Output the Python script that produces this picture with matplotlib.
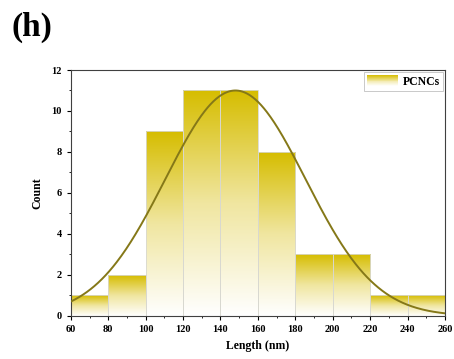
import numpy as np
import matplotlib
matplotlib.use("Agg")
import matplotlib.pyplot as plt
from matplotlib.colors import LinearSegmentedColormap
from matplotlib.patches import Rectangle
from matplotlib.legend_handler import HandlerBase

# length histogram (20 nm bins)
bin_edges = [60, 80, 100, 120, 140, 160, 180, 200, 220, 240, 260]
counts = [1, 2, 9, 11, 11, 8, 3, 3, 1, 1]
# gaussian fit parameters
fit_amp = 11.0
fit_center = 148.0
fit_sigma = 37.5

gold = "#d6bd00"
cmap = LinearSegmentedColormap.from_list("gold_fade", ["#ffffff", "#f0e6a0", gold])

plt.rcParams["font.family"] = ["Liberation Serif", "DejaVu Serif"]
plt.rcParams["font.weight"] = "bold"

fig = plt.figure(figsize=(4.54, 3.59), dpi=100)
ax = fig.add_axes([0.156, 0.12, 0.824, 0.685])

grad = np.linspace(0, 1, 256).reshape(-1, 1)
for x0, x1, c in zip(bin_edges[:-1], bin_edges[1:], counts):
    ax.imshow(grad, extent=[x0, x1, 0, c], origin="lower", cmap=cmap,
              aspect="auto", zorder=1, interpolation="bilinear")
    ax.add_patch(Rectangle((x0, 0), x1 - x0, c, fill=False,
                           edgecolor="#d8d8d0", linewidth=0.6, zorder=2))

xs = np.linspace(bin_edges[0], bin_edges[-1], 400)
ys = fit_amp * np.exp(-(xs - fit_center) ** 2 / (2 * fit_sigma ** 2))
ax.plot(xs, ys, color="#857818", linewidth=1.4, zorder=3)

ax.set_xlim(60, 260)
ax.set_ylim(0, 12)
ax.set_xticks(range(60, 261, 20))
ax.set_xticks(range(70, 260, 20), minor=True)
ax.set_yticks(range(0, 13, 2))
ax.set_yticks(range(1, 12, 2), minor=True)
ax.tick_params(axis="both", which="major", labelsize=7.5, length=3, width=0.8)
ax.tick_params(axis="both", which="minor", length=1.5, width=0.6)
for lab in ax.get_xticklabels() + ax.get_yticklabels():
    lab.set_fontweight("bold")
for sp in ax.spines.values():
    sp.set_linewidth(0.8)
    sp.set_color("#404040")

ax.set_xlabel("Length (nm)", fontsize=8.5, fontweight="bold", labelpad=4)
ax.set_ylabel("Count", fontsize=8.5, fontweight="bold", labelpad=6)


class GradientHandler(HandlerBase):
    def create_artists(self, legend, orig_handle, xdescent, ydescent,
                       width, height, fontsize, trans):
        n = 12
        arts = []
        for i in range(n):
            r = Rectangle((-xdescent, -ydescent + height * i / n), width,
                          height / n, facecolor=cmap((i + 0.5) / n),
                          edgecolor="none", transform=trans)
            arts.append(r)
        return arts


proxy = Rectangle((0, 0), 1, 1)
leg = ax.legend([proxy], ["PCNCs"], loc="upper right", fontsize=8.5,
                handler_map={Rectangle: GradientHandler()},
                frameon=True, fancybox=False, edgecolor="#b0b0b0",
                borderpad=0.3, handlelength=2.6, handleheight=1.0,
                handletextpad=0.4, borderaxespad=0.15)
leg.get_frame().set_linewidth(0.6)

fig.text(0.025, 0.925, "(h)", fontsize=24, fontweight="bold", va="center")

fig.savefig("out.png", dpi=100)
